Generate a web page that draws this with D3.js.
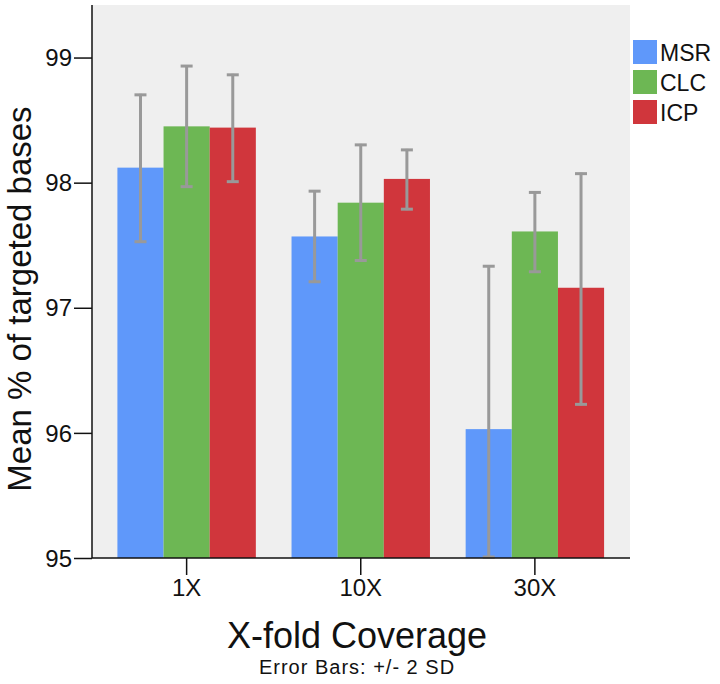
<!DOCTYPE html>
<html><head><meta charset="utf-8">
<script src="https://cdn.jsdelivr.net/npm/d3@7"></script>
<style>body{margin:0;background:#fff}svg{display:block}text{font-family:"Liberation Sans",Arial,sans-serif;fill:#111}</style>
</head><body><svg id="c" width="720" height="684"></svg>
<script>
const categories = ["1X", "10X", "30X"];
const seriesNames = ["MSR", "CLC", "ICP"];
const colors = ["#5f98fa", "#6db754", "#d0363c"];
const msrMean = [98.12, 97.57, 96.03];
const msrLow  = [97.52, 97.20, 94.72];
const msrHigh = [98.71, 97.94, 97.34];
const clcMean = [98.45, 97.84, 97.61];
const clcLow  = [97.96, 97.37, 97.28];
const clcHigh = [98.94, 98.31, 97.93];
const icpMean = [98.44, 98.03, 97.16];
const icpLow  = [98.00, 97.78, 96.22];
const icpHigh = [98.87, 98.27, 98.08];
const yTicks = [95, 96, 97, 98, 99];

const series = [
  {name: seriesNames[0], mean: msrMean, low: msrLow, high: msrHigh},
  {name: seriesNames[1], mean: clcMean, low: clcLow, high: clcHigh},
  {name: seriesNames[2], mean: icpMean, low: icpLow, high: icpHigh}
];

const svg = d3.select("#c");
const L = 92, R = 630, T = 5, B = 558;
const y = d3.scaleLinear().domain([95, 99.42]).range([B, T]);
const x = d3.scaleBand().domain(categories).range([100, 621.5]).paddingInner(0.205).paddingOuter(0.1);
const xs = d3.scaleBand().domain(seriesNames).range([0, x.bandwidth()]);

svg.append("rect").attr("x", L).attr("y", T).attr("width", R - L).attr("height", B - T).attr("fill", "#efefef");

const flat = [];
series.forEach((s, si) => categories.forEach((c, ci) => flat.push({c, si, name: s.name, m: s.mean[ci], lo: s.low[ci], hi: s.high[ci]})));

svg.append("g").selectAll("rect").data(flat).join("rect")
  .attr("x", d => x(d.c) + xs(d.name))
  .attr("width", xs.bandwidth())
  .attr("y", d => y(d.m))
  .attr("height", d => B - y(d.m))
  .attr("fill", d => colors[d.si]);

const cl = v => Math.max(95, Math.min(99.42, v));
const eg = svg.append("g").attr("stroke", "#999").attr("stroke-width", 3).attr("fill", "none");
flat.forEach(d => {
  const cx = x(d.c) + xs(d.name) + xs.bandwidth() / 2;
  eg.append("line").attr("x1", cx).attr("x2", cx).attr("y1", y(cl(d.lo))).attr("y2", y(cl(d.hi)));
  eg.append("line").attr("x1", cx - 6).attr("x2", cx + 6).attr("y1", y(cl(d.lo)) - 1).attr("y2", y(cl(d.lo)) - 1);
  eg.append("line").attr("x1", cx - 6).attr("x2", cx + 6).attr("y1", y(cl(d.hi)) + 1).attr("y2", y(cl(d.hi)) + 1);
});

const ya = svg.append("g").attr("transform", `translate(${L},0)`)
  .call(d3.axisLeft(y).tickValues(yTicks).tickSize(18).tickPadding(2).tickFormat(d3.format("d")));
ya.select(".domain").attr("d", `M0,${T}V${B}`).attr("stroke", "#111").attr("stroke-width", 1.5);
ya.selectAll(".tick line").attr("stroke", "#111").attr("stroke-width", 1.5);
ya.selectAll(".tick text").attr("font-size", 24).attr("font-family", "Liberation Sans, Arial").attr("fill", "#111").attr("dy", "0.34em");

const xa = svg.append("g").attr("transform", `translate(0,${B})`)
  .call(d3.axisBottom(x).tickSize(17).tickPadding(4));
xa.select(".domain").attr("d", `M${L},0H${R}`).attr("stroke", "#111").attr("stroke-width", 1.5);
xa.selectAll(".tick line").attr("stroke", "#111").attr("stroke-width", 1.5);
xa.selectAll(".tick text").attr("font-size", 24).attr("font-family", "Liberation Sans, Arial").attr("fill", "#111");

svg.append("text").attr("transform", "translate(31,299) rotate(-90)").attr("text-anchor", "middle")
  .attr("font-size", 33).text("Mean % of targeted bases");
svg.append("text").attr("x", 357).attr("y", 648).attr("text-anchor", "middle")
  .attr("font-size", 36).text("X-fold Coverage");
svg.append("text").attr("x", 357).attr("y", 674).attr("text-anchor", "middle")
  .attr("font-size", 20).attr("letter-spacing", "1px").text("Error Bars: +/- 2 SD");

const lg = svg.append("g");
seriesNames.forEach((n, i) => {
  lg.append("rect").attr("x", 633).attr("y", 40 + i * 30).attr("width", 24).attr("height", 24).attr("fill", colors[i]);
  lg.append("text").attr("x", 660).attr("y", 61 + i * 30).attr("font-size", 23).text(n);
});
</script></body></html>
